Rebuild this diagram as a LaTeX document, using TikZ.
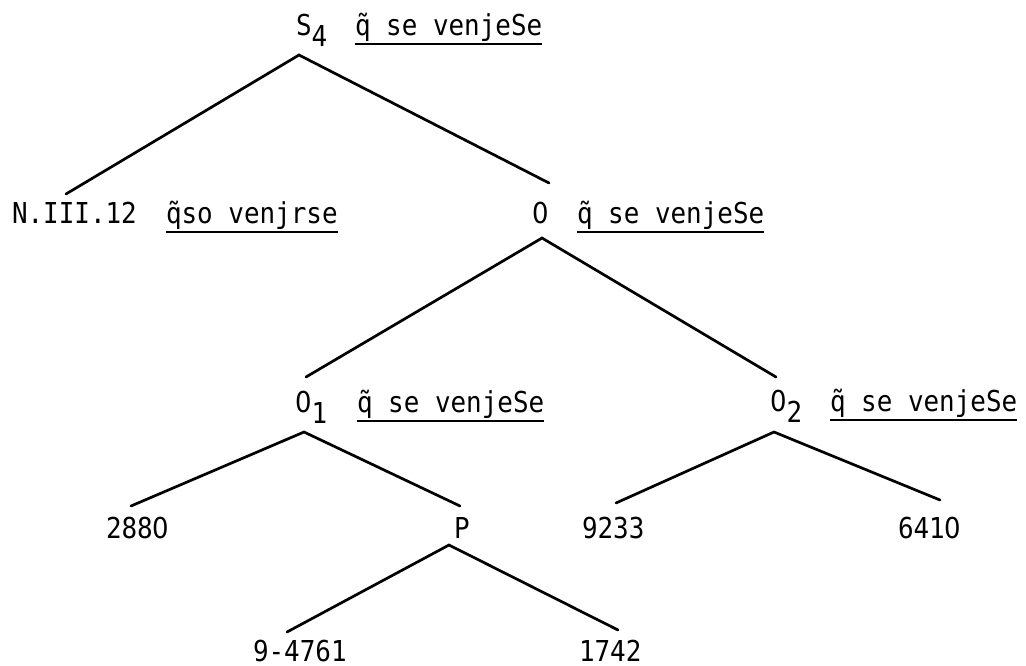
\documentclass[tikz,border=0pt]{standalone}
\usepackage{fontspec}
\newfontfamily\typewr[FakeStretch=0.9]{DejaVu Sans Mono}
\newfontfamily\plainfig[FakeStretch=0.9]{DejaVu Sans}
\begin{document}
\begin{tikzpicture}[x=0.5pt,y=-0.5pt,
  txt/.style={anchor=base west,inner sep=0pt,outer sep=0pt,
    font=\typewr\fontsize{14.4}{16}\selectfont},
  branch/.style={line width=1.35pt,line cap=round,line join=miter},
  uline/.style={line width=1.1pt}]
\useasboundingbox (0,0) rectangle (1026,665);
\newcommand{\sub}[1]{\raisebox{-5.5pt}{#1}}
% an undotted zero, set in the width of a typewriter cell
\newcommand{\zr}{\makebox[\fontcharwd\font`0][c]{\plainfig 0}}

% labels and their underlined glosses
\node[txt] (s4)  at (296,35)  {S\sub{4}};
\node[txt] (g1)  at (355,35)  {q̃ se venjeSe};
\node[txt] (n3)  at (12,223)  {N.III.12};
\node[txt] (g2)  at (166,223) {q̃so venjrse};
\node[txt] (o)   at (533,223) {\zr};
\node[txt] (g3)  at (577,223) {q̃ se venjeSe};
\node[txt] (o1)  at (296,412) {\zr\sub{1}};
\node[txt] (g4)  at (357,412) {q̃ se venjeSe};
\node[txt] (o2)  at (771,411) {\zr\sub{2}};
\node[txt] (g5)  at (830,411) {q̃ se venjeSe};
\node[txt] (a)   at (106,538) {288\zr};
\node[txt] (p)   at (454,538) {P};
\node[txt] (b)   at (582,538) {9233};
\node[txt] (c)   at (898,538) {641\zr};
\node[txt] (d)   at (253,661) {9-4761};
\node[txt] (e)   at (579,661) {1742};

\foreach \g in {g1,g2,g3,g4,g5}
  \draw[uline] ([yshift=-4.5pt]\g.base west) -- ([yshift=-4.5pt]\g.base east);

% branching points and branch ends
\coordinate (s4t) at (299,55);
\coordinate (n3e) at (66,194);
\coordinate (oe)  at (549,183);
\coordinate (ot)  at (542,238);
\coordinate (o1e) at (306,377);
\coordinate (o2e) at (776,377);
\coordinate (o1t) at (304,432);
\coordinate (ae)  at (131,506);
\coordinate (pe)  at (460,506);
\coordinate (pt)  at (449,545);
\coordinate (de)  at (287,632);
\coordinate (ee)  at (618,630);
\coordinate (o2t) at (774,432);
\coordinate (be)  at (616,503);
\coordinate (ce)  at (940,500);

\draw[branch] (n3e) -- (s4t) -- (oe);
\draw[branch] (o1e) -- (ot) -- (o2e);
\draw[branch] (ae) -- (o1t) -- (pe);
\draw[branch] (de) -- (pt) -- (ee);
\draw[branch] (be) -- (o2t) -- (ce);
\end{tikzpicture}
\end{document}
